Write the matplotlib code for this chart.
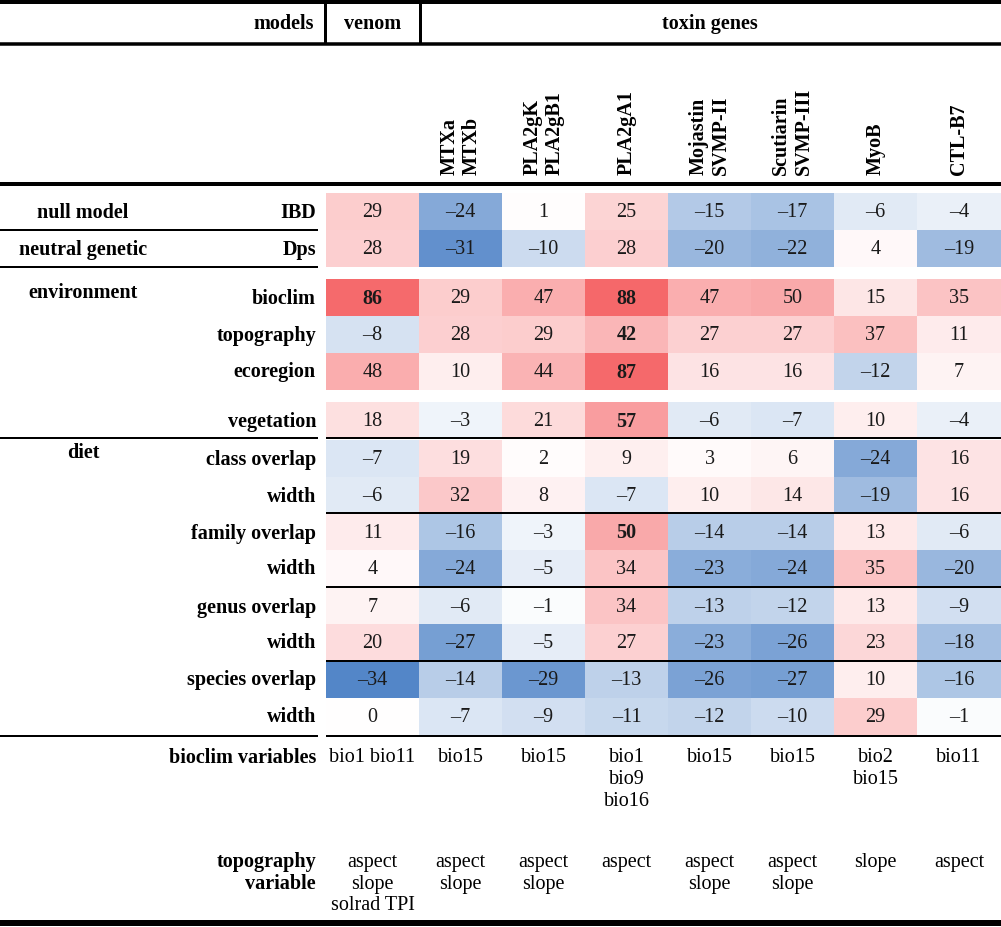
import numpy as np
import matplotlib
matplotlib.use("Agg")
import matplotlib.pyplot as plt
from matplotlib.colors import LinearSegmentedColormap, TwoSlopeNorm

plt.rcParams['font.family'] = ['Liberation Serif', 'DejaVu Serif']

# column headers
columns = ['venom', 'MTXa\nMTXb', 'PLA2gK\nPLA2gB1', 'PLA2gA1', 'Mojastin\nSVMP-II',
           'Scutiarin\nSVMP-III', 'MyoB', 'CTL-B7']

# row labels
row_labels = ['IBD', 'Dps', 'bioclim', 'topography', 'ecoregion', 'vegetation',
              'class overlap', 'width', 'family overlap', 'width',
              'genus overlap', 'width', 'species overlap', 'width']

# values, one list per column
venom     = [29, 28, 86, -8, 48, 18, -7, -6, 11, 4, 7, 20, -34, 0]
mtx       = [-24, -31, 29, 28, 10, -3, 19, 32, -16, -24, -6, -27, -14, -7]
pla2gk    = [1, -10, 47, 29, 44, 21, 2, 8, -3, -5, -1, -5, -29, -9]
pla2ga1   = [25, 28, 88, 42, 87, 57, 9, -7, 50, 34, 34, 27, -13, -11]
mojastin  = [-15, -20, 47, 27, 16, -6, 3, 10, -14, -23, -13, -23, -26, -12]
scutiarin = [-17, -22, 50, 27, 16, -7, 6, 14, -14, -24, -12, -26, -27, -10]
myob      = [-6, 4, 15, 37, -12, 10, -24, -19, 13, 35, 13, 23, 10, 29]
ctlb7     = [-4, -19, 35, 11, 7, -4, 16, 16, -6, -20, -9, -18, -16, -1]

# bold (highlighted) cells as (row, column)
bold_cells = [(2, 0), (2, 3), (3, 3), (4, 3), (5, 3), (8, 3)]

bioclim_vars = ['bio1 bio11', 'bio15', 'bio15', 'bio1\nbio9\nbio16', 'bio15', 'bio15',
                'bio2\nbio15', 'bio11']
topo_vars = ['aspect\nslope\nsolrad TPI', 'aspect\nslope', 'aspect\nslope', 'aspect',
             'aspect\nslope', 'aspect\nslope', 'slope', 'aspect']

vals = np.array([venom, mtx, pla2gk, pla2ga1, mojastin, scutiarin, myob, ctlb7]).T

# layout (pixels)
W, H = 1001, 927
col_edges = np.array([326, 419, 502, 585, 668, 751, 834, 917, 1001])
row_tops = [193, 230, 279, 316, 353, 402, 440, 477, 514, 550, 588, 624, 661, 698]
row_h = 37
px = 0.72  # points per pixel at dpi 100
fs_lab = 14.5
fs_num = 14.5

cmap = LinearSegmentedColormap.from_list('bwr_soft', ['#5386C8', '#ffffff', '#F5686A'])
norm = TwoSlopeNorm(vmin=vals.min(), vcenter=0, vmax=vals.max())

fig = plt.figure(figsize=(W / 100, H / 100), dpi=100)
ax = fig.add_axes([0, 0, 1, 1])
ax.set_xlim(0, W)
ax.set_ylim(H, 0)
ax.axis('off')

centers = (col_edges[:-1] + col_edges[1:]) / 2
for i, top in enumerate(row_tops):
    ax.pcolormesh(col_edges, [top, top + row_h], vals[i][np.newaxis, :],
                  cmap=cmap, norm=norm)
    yc = top + row_h / 2
    for j, v in enumerate(vals[i]):
        s = str(v).replace('-', '\u2013')
        ax.text(centers[j], yc + 1, s, ha='center', va='center', fontsize=fs_num,
                color='#1a1a1a', fontweight='bold' if (i, j) in bold_cells else 'normal')
    ax.text(316, yc + 1, row_labels[i], ha='right', va='center', fontsize=fs_lab,
            fontweight='bold')

# group labels
ax.text(83, 213, 'null model', ha='center', va='center', fontsize=fs_lab, fontweight='bold')
ax.text(83, 250, 'neutral genetic', ha='center', va='center', fontsize=fs_lab, fontweight='bold')
ax.text(83, 293, 'environment', ha='center', va='center', fontsize=fs_lab, fontweight='bold')
ax.text(83, 453, 'diet', ha='center', va='center', fontsize=fs_lab, fontweight='bold')

# header
ax.text(314, 24, 'models', ha='right', va='center', fontsize=fs_lab, fontweight='bold')
ax.text(centers[0], 24, 'venom', ha='center', va='center', fontsize=fs_lab, fontweight='bold')
ax.text(710, 24, 'toxin genes', ha='center', va='center', fontsize=fs_lab, fontweight='bold')
for j, name in enumerate(columns[1:], start=1):
    ax.text(centers[j], 175, name, rotation=90, ha='center', va='bottom',
            fontsize=fs_lab, fontweight='bold', multialignment='left', linespacing=1.15)

# bottom variable rows
ax.text(316, 758, 'bioclim variables', ha='right', va='center', fontsize=fs_lab,
        fontweight='bold')
ax.text(316, 862, 'topography', ha='right', va='center', fontsize=fs_lab, fontweight='bold')
ax.text(316, 884, 'variable', ha='right', va='center', fontsize=fs_lab, fontweight='bold')
for j in range(len(columns)):
    for k, line in enumerate(bioclim_vars[j].split('\n')):
        ax.text(centers[j], 758 + 22 * k, line, ha='center', va='center', fontsize=fs_num)
    for k, line in enumerate(topo_vars[j].split('\n')):
        ax.text(centers[j], 862 + 22 * k, line, ha='center', va='center', fontsize=fs_num)

# rules
lk = dict(color='black', solid_capstyle='butt')
ax.plot([0, W], [2, 2], lw=4 * px, **lk)
ax.plot([0, W], [44, 44], lw=3.5 * px, **lk)
ax.plot([325, 325], [0, 44], lw=3 * px, **lk)
ax.plot([420, 420], [0, 44], lw=3 * px, **lk)
ax.plot([0, W], [184, 184], lw=4 * px, **lk)
for y in [230, 267]:
    ax.plot([0, 318], [y, y], lw=2 * px, **lk)
for y in [438, 736]:
    ax.plot([0, 318], [y, y], lw=2 * px, **lk)
    ax.plot([326, W], [y, y], lw=2 * px, **lk)
for y in [513, 587, 661]:
    ax.plot([326, W], [y, y], lw=2 * px, **lk)
ax.plot([0, W], [923, 923], lw=6 * px, **lk)

fig.savefig('out.png', dpi=100)
